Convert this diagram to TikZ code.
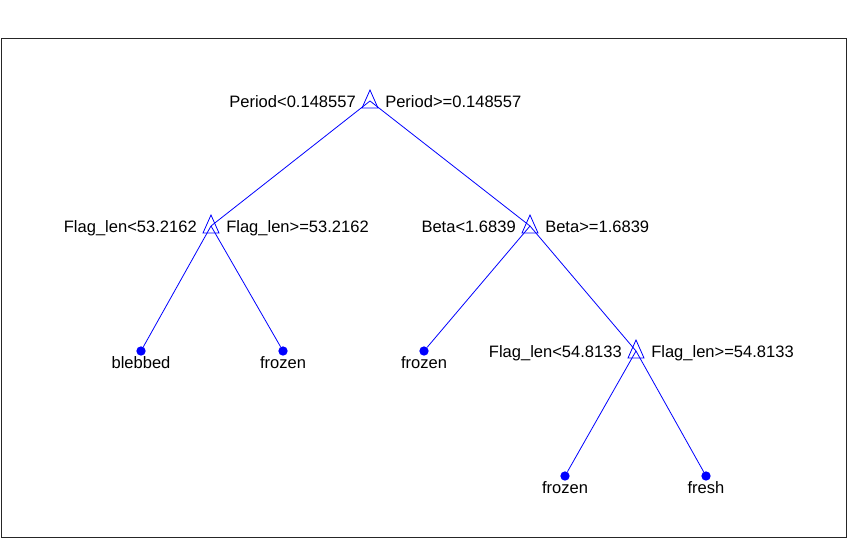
\documentclass[tikz,border=0pt]{standalone}
\usepackage{fontspec}
\setmainfont{Liberation Sans}

\tikzset{
  edge/.style={draw=blue, line width=0.6pt},
  leafdot/.style={circle, fill=blue, inner sep=0pt, minimum size=7pt},
  lbl/.style={inner sep=0pt},
  splitmark/.pic={\draw[blue, line width=0.6pt] (0,-11) -- (8,7) -- (-8,7) -- cycle;},
}

\begin{document}
\begin{tikzpicture}[x=0.75pt,y=-0.75pt,font=\fontsize{12.4}{14}\selectfont]
  \useasboundingbox (0,0) rectangle (848,539);

  %% frame
  \draw[line width=0.75pt, black!85] (1.5,38) rectangle (846.5,537.5);

  %% split points
  \coordinate (root)  at (370,101);
  \coordinate (flag)  at (211,226);
  \coordinate (beta)  at (530,226);
  \coordinate (flagb) at (636,351);

  %% leaves
  \node[leafdot] (blebbed) at (141,351) {};
  \node[leafdot] (frozenA) at (283,351) {};
  \node[leafdot] (frozenB) at (424,351) {};
  \node[leafdot] (frozenC) at (565,476) {};
  \node[leafdot] (fresh)   at (706,476) {};

  %% branches
  \draw[edge] (root) -- (flag);
  \draw[edge] (root) -- (beta);
  \draw[edge] (flag) -- (blebbed);
  \draw[edge] (flag) -- (frozenA);
  \draw[edge] (beta) -- (frozenB);
  \draw[edge] (beta) -- (flagb);
  \draw[edge] (flagb) -- (frozenC);
  \draw[edge] (flagb) -- (fresh);

  %% split markers
  \foreach \n in {root,flag,beta,flagb}
    \pic at (\n) {splitmark};

  %% split labels
  \path (root) ++(-14,6) node[lbl, anchor=base east] (rootL) {Period<0.148557};
  \path (root) ++(15,6) node[lbl, anchor=base west] (rootR) {Period>=0.148557};
  \path (flag) ++(-14,6) node[lbl, anchor=base east] (flagL) {Flag\_len<53.2162};
  \path (flag) ++(15,6) node[lbl, anchor=base west] (flagR) {Flag\_len>=53.2162};
  \path (beta) ++(-14,6) node[lbl, anchor=base east] (betaL) {Beta<1.6839};
  \path (beta) ++(15,6) node[lbl, anchor=base west] (betaR) {Beta>=1.6839};
  \path (flagb) ++(-14,6) node[lbl, anchor=base east] (flagbL) {Flag\_len<54.8133};
  \path (flagb) ++(15,6) node[lbl, anchor=base west] (flagbR) {Flag\_len>=54.8133};

  %% leaf labels
  \path (blebbed) ++(0,17) node[lbl, anchor=base] {blebbed};
  \path (frozenA) ++(0,17) node[lbl, anchor=base] {frozen};
  \path (frozenB) ++(0,17) node[lbl, anchor=base] {frozen};
  \path (frozenC) ++(0,17) node[lbl, anchor=base] {frozen};
  \path (fresh)   ++(0,17) node[lbl, anchor=base] {fresh};

\end{tikzpicture}
\end{document}
